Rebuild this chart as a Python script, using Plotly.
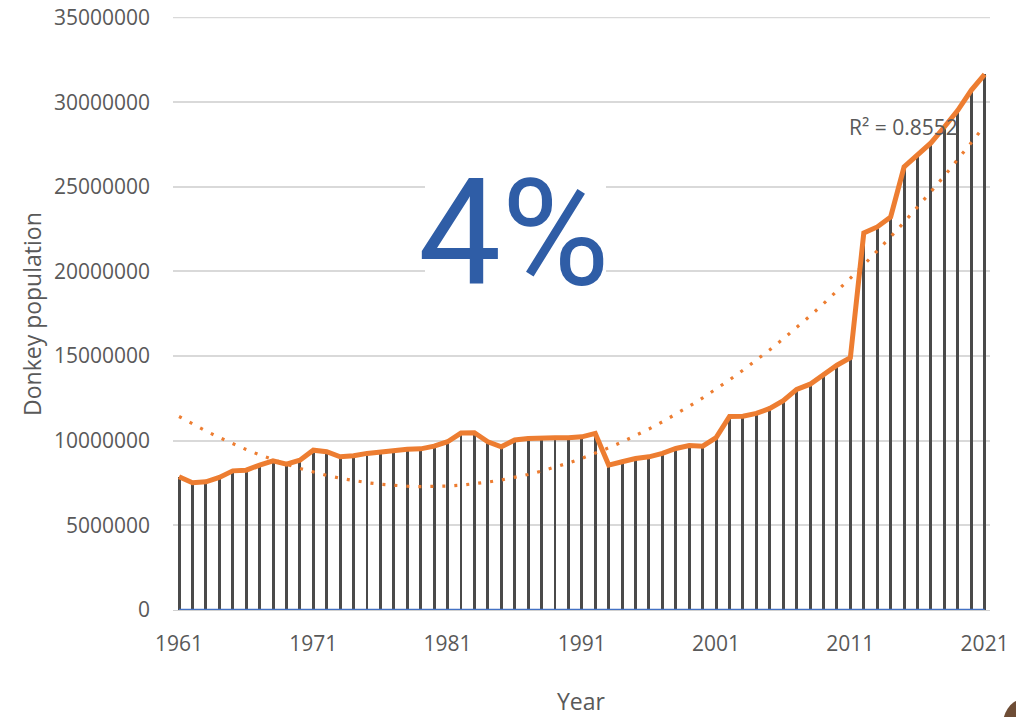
import numpy as np
import plotly.graph_objects as go

years = list(range(1961, 2022))
population = [
    7870000, 7520000, 7570000, 7830000, 8220000, 8260000, 8560000, 8810000, 8620000, 8850000,
    9440000, 9350000, 9050000, 9110000, 9250000, 9350000, 9440000, 9500000, 9520000, 9680000,
    9940000, 10450000, 10470000, 9940000, 9640000, 10040000, 10130000, 10170000, 10170000, 10170000,
    10230000, 10430000, 8560000, 8760000, 8950000, 9050000, 9250000, 9540000, 9720000, 9680000,
    10180000, 11430000, 11450000, 11610000, 11910000, 12360000, 13030000, 13340000, 13870000, 14460000,
    14900000, 22270000, 22630000, 23220000, 26170000, 26860000, 27590000, 28530000, 29520000, 30700000,
    31640000,
]
baseline_series = [0] * len(years)
x_tick_vals = [1961, 1971, 1981, 1991, 2001, 2011, 2021]
y_tick_vals = [0, 5000000, 10000000, 15000000, 20000000, 25000000, 30000000, 35000000]
r2_label = "R² = 0.8552"
big_label = "4%"

# quadratic trendline fitted to the data
coef = np.polyfit(np.array(years, dtype=float), np.array(population, dtype=float), 2)
trend = np.polyval(coef, np.array(years, dtype=float))

fig = go.Figure()
fig.add_trace(go.Bar(
    x=years, y=population, width=0.22,
    marker=dict(color="#4a4a4a", line=dict(width=0)),
    hoverinfo="skip", showlegend=False,
))
fig.add_trace(go.Scatter(
    x=years, y=baseline_series, mode="lines",
    line=dict(color="#4472C4", width=2.5), showlegend=False,
))
fig.add_trace(go.Scatter(
    x=years, y=trend, mode="lines",
    line=dict(color="#ED7D31", width=3.2, dash="3px,9px"), showlegend=False,
))
fig.add_trace(go.Scatter(
    x=years, y=population, mode="lines",
    line=dict(color="#ED7D31", width=5), showlegend=False,
))

tick_font = dict(family="Open Sans, Noto Sans, sans-serif", size=21, color="#595959")

# plot area at page pixels x 173..990, y 17..610 (body margin removed below)
fig.update_layout(
    width=1016, height=717,
    margin=dict(l=173, r=26, t=17, b=107),
    paper_bgcolor="white", plot_bgcolor="white",
    bargap=0,
    xaxis=dict(
        range=[1960.55, 2021.4], automargin=False,
        tickmode="array", tickvals=x_tick_vals, ticktext=[str(v) for v in x_tick_vals],
        showgrid=False, zeroline=False, showline=True, linecolor="#d0d0d0", linewidth=1,
        ticks="", tickfont=tick_font, ticklabelstandoff=15,
    ),
    yaxis=dict(
        range=[0, 35030000], automargin=False,
        tickmode="array", tickvals=y_tick_vals, ticktext=[str(v) for v in y_tick_vals],
        showgrid=True, gridcolor="#d9d9d9", gridwidth=1.5,
        zeroline=False, showline=False, ticks="", tickfont=tick_font, ticklabelstandoff=22,
    ),
    shapes=[
        dict(type="line", xref="paper", yref="y", x0=0, x1=1,
             y0=y_tick_vals[-1], y1=y_tick_vals[-1],
             line=dict(color="#d9d9d9", width=1.5), layer="below"),
        dict(type="rect", xref="paper", yref="paper",
             x0=(425 - 173) / 817, x1=(606 - 173) / 817,
             y0=(610 - 292) / 593, y1=(610 - 165) / 593,
             fillcolor="white", line=dict(width=0), layer="above"),
        dict(type="circle", xref="paper", yref="paper",
             x0=(1002 - 173) / 817, x1=(1040 - 173) / 817,
             y0=(610 - 760) / 593, y1=(610 - 700) / 593,
             fillcolor="#6e4d36", line=dict(width=0), layer="above"),
    ],
    annotations=[
        dict(text=big_label, xref="paper", yref="paper",
             x=(514 - 173) / 817, y=(610 - 233) / 593, xanchor="center", yanchor="middle",
             showarrow=False,
             font=dict(family="Roboto, sans-serif", size=148, color="#2F5DA6")),
        dict(text=r2_label, xref="paper", yref="paper",
             x=(903 - 173) / 817, y=(610 - 127) / 593, xanchor="center", yanchor="middle",
             showarrow=False, font=dict(family="Open Sans, sans-serif", size=21, color="#595959")),
        dict(text="Year", xref="paper", yref="paper",
             x=(581 - 173) / 817, y=(610 - 701) / 593, xanchor="center", yanchor="middle",
             showarrow=False, font=dict(family="Open Sans, sans-serif", size=23, color="#595959")),
        dict(text="Donkey population", xref="paper", yref="paper", textangle=-90,
             x=(32 - 173) / 817, y=(610 - 314) / 593, xanchor="center", yanchor="middle",
             showarrow=False, font=dict(family="Open Sans, sans-serif", size=23, color="#595959")),
    ],
)

fig.write_html(
    "out.html",
    config={"displayModeBar": False},
    post_script="document.body.style.margin='0';document.body.style.overflow='hidden';",
)
